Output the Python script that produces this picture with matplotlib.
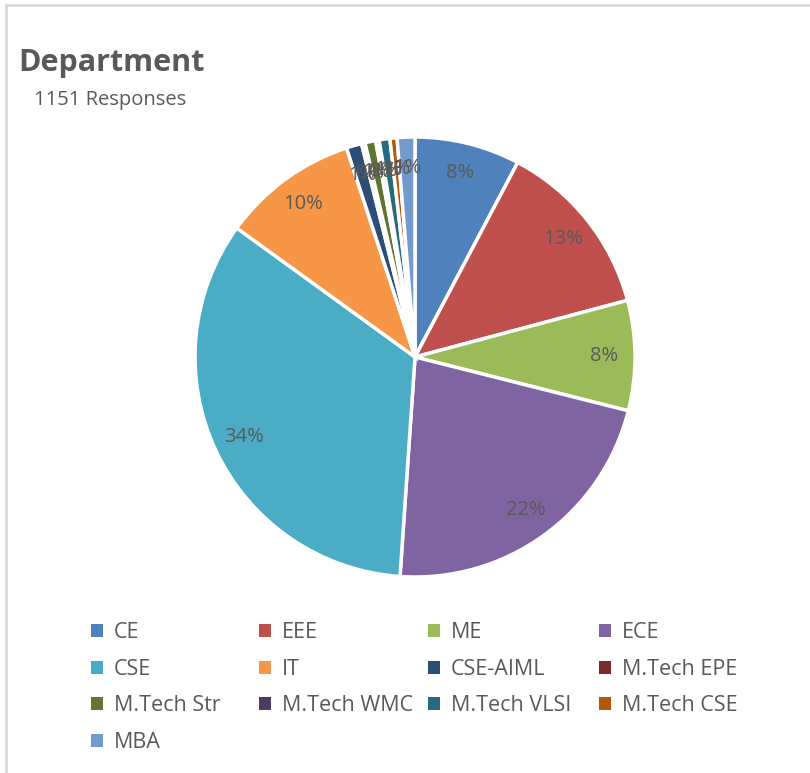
import matplotlib.pyplot as plt
from matplotlib.patches import Patch
from matplotlib.lines import Line2D

departments = ["CE", "EEE", "ME", "ECE", "CSE", "IT", "CSE-AIML", "M.Tech EPE",
               "M.Tech Str", "M.Tech WMC", "M.Tech VLSI", "M.Tech CSE", "MBA"]
responses = [89, 151, 93, 255, 390, 115, 13, 3, 9, 3, 9, 6, 15]
colors = ["#4F81BD", "#C0504D", "#9BBB59", "#8064A2", "#4BACC6", "#F79646",
          "#2C4D75", "#772C2A", "#5F7530", "#4D3B62", "#276A7C", "#B65708", "#729ACA"]
total = sum(responses)

plt.rcParams['font.family'] = ['Open Sans', 'DejaVu Sans']
text_grey = "#595959"

W, H = 810, 773
fig = plt.figure(figsize=(W / 100, H / 100), dpi=100)

# pie centre (415, 357) px, radius 220 px
cx, cy, r = 415, 357, 220
ax = fig.add_axes([(cx - r) / W, (H - cy - r) / H, 2 * r / W, 2 * r / H])
wedges, texts, autotexts = ax.pie(
    responses, colors=colors, startangle=90, counterclock=False,
    autopct='%.0f%%', pctdistance=0.86,
    wedgeprops=dict(edgecolor="white", linewidth=2.5),
    textprops=dict(color=text_grey, fontsize=14.5))
ax.set_xlim(-1, 1)
ax.set_ylim(-1, 1)
ax.set_aspect('auto')
ax.axis('off')

fig.text(18 / W, 1 - 63 / H, "Department", fontsize=22, fontweight='bold',
         color=text_grey, va='center', ha='left')
fig.text(34 / W, 1 - 100 / H, f"{total} Responses", fontsize=14.5,
         color=text_grey, va='center', ha='left')

# legend: four equal-width columns, filled row by row as in the original
col_x = [72, 240, 409, 580]
for c, x in enumerate(col_x):
    idx = list(range(c, len(departments), 4))
    handles = [Patch(facecolor=colors[i], edgecolor='none') for i in idx]
    labels = [departments[i] for i in idx]
    fig.legend(handles, labels, ncol=1, loc='upper left',
               bbox_to_anchor=(x / W, 1 - 603 / H), frameon=False,
               fontsize=15.5, labelcolor=text_grey, handlelength=0.55,
               handleheight=0.55, handletextpad=0.5, labelspacing=0.72)

# light frame lines on top and left
fig.add_artist(Line2D([6 / W, 1], [1 - 5 / H, 1 - 5 / H], color="#d9d9d9", lw=2,
                      transform=fig.transFigure))
fig.add_artist(Line2D([6 / W, 6 / W], [0, 1 - 5 / H], color="#d9d9d9", lw=2,
                      transform=fig.transFigure))

fig.savefig("out.png", dpi=100, facecolor="white")
